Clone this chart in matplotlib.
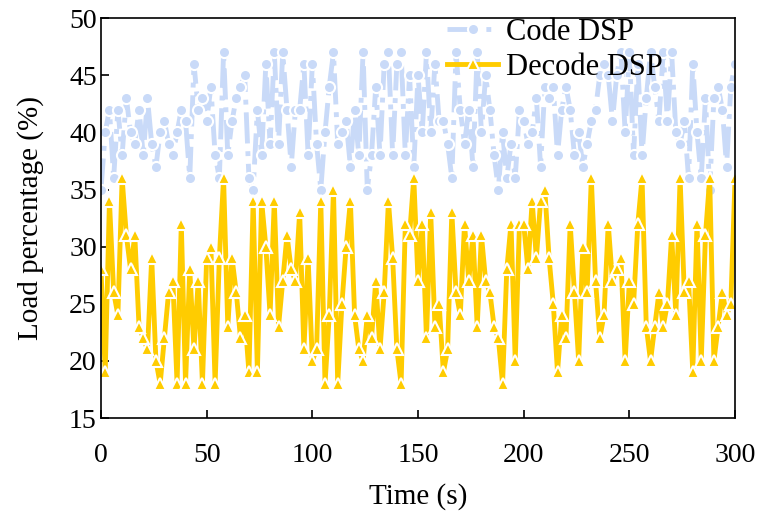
import matplotlib
matplotlib.use("Agg")
import matplotlib.pyplot as plt
import numpy as np

plt.rcParams["font.family"] = ["Liberation Serif", "DejaVu Serif"]

# time axis, one sample every 2 s
time_s = np.arange(0, 301, 2)

code_dsp = [
    35, 40, 42, 36, 42, 38, 43, 40, 39, 42, 38, 43, 39, 37, 40, 41, 39, 38, 40, 42, 41, 36, 46, 42, 43,
    41, 44, 38, 36, 47, 38, 41, 43, 44, 45, 36, 35, 42, 38, 46, 39, 47, 39, 47, 42, 37, 42, 42, 46, 38,
    46, 39, 35, 40, 44, 47, 39, 40, 41, 37, 42, 38, 47, 35, 38, 44, 38, 46, 47, 38, 46, 47, 38, 45, 37,
    45, 40, 47, 40, 46, 41, 41, 39, 36, 47, 42, 39, 42, 37, 47, 40, 45, 42, 38, 35, 40, 36, 39, 36, 42,
    41, 39, 40, 43, 37, 44, 43, 44, 38, 42, 44, 42, 38, 40, 37, 39, 41, 42, 45, 46, 45, 41, 45, 47, 40,
    47, 38, 46, 38, 43, 47, 44, 41, 47, 41, 47, 40, 39, 41, 36, 46, 40, 36, 43, 35, 43, 44, 42, 37, 44, 46,
]

decode_dsp = [
    28, 19, 34, 26, 24, 36, 31, 28, 31, 23, 22, 21, 29, 20, 18, 22, 26, 27, 18, 32, 18, 28, 21, 27, 18,
    29, 30, 18, 29, 36, 23, 29, 26, 22, 24, 19, 34, 19, 34, 30, 24, 34, 23, 27, 31, 28, 27, 33, 21, 29,
    20, 21, 34, 18, 24, 35, 18, 25, 30, 34, 24, 21, 20, 24, 22, 27, 21, 26, 34, 29, 21, 18, 32, 31, 36,
    27, 32, 22, 33, 23, 25, 19, 21, 33, 26, 24, 32, 27, 31, 23, 31, 27, 26, 23, 22, 18, 28, 32, 20, 32,
    32, 28, 34, 29, 34, 35, 29, 25, 19, 24, 22, 32, 26, 20, 30, 26, 36, 27, 22, 24, 32, 27, 28, 29, 20,
    27, 25, 32, 36, 23, 20, 23, 26, 23, 25, 31, 24, 36, 26, 27, 19, 32, 20, 31, 36, 20, 23, 26, 24, 25, 36,
]

fig = plt.figure(figsize=(7.57, 5.18), dpi=100)
ax = fig.add_axes([0.1334, 0.193, 0.8376, 0.772])

ax.plot(time_s, code_dsp, ls="-.", lw=3.5, color="#c9daf8", marker="o", ms=8,
        mec="white", mew=1.5, label="Code DSP")
ax.plot(time_s, decode_dsp, ls="-", lw=3.5, color="#ffcc00", marker="^", ms=8,
        mec="white", mew=1.5, label="Decode DSP")

ax.set_xlim(0, 300)
ax.set_ylim(15, 50)
ax.set_xticks(np.arange(0, 301, 50))
ax.set_yticks(np.arange(15, 51, 5))
ax.tick_params(direction="in", labelsize=20, length=6, width=1.2)
ax.tick_params(axis="x", pad=18)
ax.tick_params(axis="y", pad=3)
for spine in ax.spines.values():
    spine.set_linewidth(1.2)

ax.set_xlabel("Time (s)", fontsize=21, labelpad=11)
ax.set_ylabel("Load percentage (%)", fontsize=21, labelpad=18)

ax.legend(loc="upper right", bbox_to_anchor=(0.93, 1.07), frameon=False,
          fontsize=22, handlelength=1.65, labelspacing=0.2, handletextpad=0.28)

fig.savefig("out.png", dpi=100)
